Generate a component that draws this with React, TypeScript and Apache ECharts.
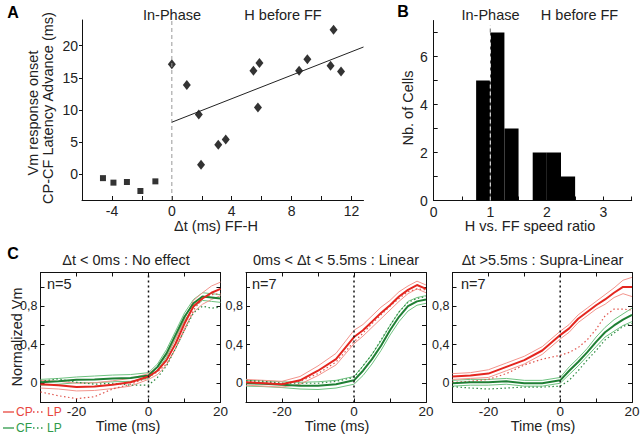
import React, { useEffect, useRef } from "react";
import * as echarts from "echarts";

// ---------- Panel A data ----------
const beforeX = [-4.6, -3.9, -3.0, -2.1, -1.1];
const beforeY = [-0.6, -1.3, -1.2, -2.6, -1.1];
const afterX = [0, 1.0, 1.8, 1.95, 3.1, 3.6, 5.45, 5.85, 5.75, 8.5, 9.05, 10.8, 10.6, 11.3];
const afterY = [17.1, 13.9, 9.3, 1.5, 4.6, 5.4, 16.1, 17.3, 10.4, 16.1, 17.9, 22.5, 16.9, 16.0];
const fitLine = [[0, 8.1], [12.8, 19.8]];

// ---------- Panel B data ----------
const binStart = [0.75, 1.0, 1.25, 1.5, 1.75, 2.0, 2.25];
const binEnd = [1.0, 1.25, 1.5, 1.75, 2.0, 2.25, 2.5];
const binCount = [5, 7, 3, 0, 2, 2, 1];

// ---------- Panel C data ----------
const T = [-30, -25, -20, -15, -10, -5, 0, 2.5, 5, 7.5, 10, 12.5, 15, 17.5, 20];

const cpMean1 = [-0.01, -0.02, -0.04, -0.035, -0.015, 0.01, 0.07, 0.13, 0.24, 0.41, 0.62, 0.8, 0.88, 0.94, 0.98];
const cpSem1 = [0.04, 0.04, 0.04, 0.04, 0.04, 0.04, 0.03, 0.04, 0.05, 0.05, 0.05, 0.06, 0.06, 0.07, 0.07];
const cfMean1 = [0.01, 0.02, 0.035, 0.04, 0.05, 0.055, 0.08, 0.17, 0.31, 0.5, 0.69, 0.83, 0.9, 0.89, 0.88];
const cfSem1 = [0.03, 0.03, 0.03, 0.035, 0.035, 0.035, 0.03, 0.03, 0.04, 0.04, 0.04, 0.04, 0.04, 0.04, 0.04];
const cpLP1 = [-0.09, -0.13, -0.16, -0.14, -0.06, -0.01, 0.06, 0.12, 0.2, 0.36, 0.55, 0.76, 0.88, 0.92, 0.93];
const cfLP1 = [0.02, 0.045, 0.01, -0.01, 0, -0.02, -0.02, 0.06, 0.18, 0.36, 0.55, 0.73, 0.8, 0.78, 0.79];

const cpMean2 = [0.01, 0.0, -0.01, 0.03, 0.13, 0.25, 0.48, 0.55, 0.64, 0.73, 0.81, 0.9, 0.97, 1.02, 0.98];
const cpSem2 = [0.03, 0.03, 0.03, 0.04, 0.05, 0.06, 0.07, 0.06, 0.06, 0.06, 0.05, 0.05, 0.04, 0.04, 0.04];
const cfMean2 = [0.0, -0.005, -0.015, -0.025, -0.025, -0.01, 0.03, 0.13, 0.25, 0.39, 0.55, 0.69, 0.8, 0.85, 0.87];
const cfSem2 = [0.03, 0.03, 0.03, 0.035, 0.04, 0.04, 0.04, 0.05, 0.05, 0.05, 0.05, 0.05, 0.05, 0.04, 0.04];
const cpLP2 = [0.02, 0.01, 0.0, 0.02, 0.1, 0.22, 0.43, 0.52, 0.62, 0.71, 0.8, 0.88, 0.95, 0.98, 0.97];
const cfLP2 = [0.03, 0.02, 0.0, 0.0, 0.0, 0.02, 0.06, 0.18, 0.3, 0.45, 0.6, 0.74, 0.84, 0.88, 0.9];

const cpMean3 = [0.07, 0.08, 0.1, 0.17, 0.24, 0.34, 0.5, 0.57, 0.67, 0.74, 0.81, 0.87, 0.94, 1.0, 1.0];
const cpSem3 = [0.03, 0.03, 0.04, 0.04, 0.04, 0.04, 0.04, 0.04, 0.04, 0.04, 0.04, 0.05, 0.05, 0.07, 0.1];
const cfMean3 = [0.0, 0.01, 0.01, 0.02, 0.0, 0.0, 0.03, 0.13, 0.22, 0.32, 0.43, 0.53, 0.6, 0.66, 0.71];
const cfSem3 = [0.03, 0.03, 0.03, 0.03, 0.03, 0.03, 0.03, 0.04, 0.04, 0.04, 0.05, 0.05, 0.06, 0.06, 0.07];
const cpLP3 = [0.01, 0.02, 0.04, 0.1, 0.19, 0.25, 0.29, 0.32, 0.37, 0.45, 0.56, 0.7, 0.77, 0.77, 0.76];
const cfLP3 = [-0.035, -0.05, -0.06, -0.05, -0.04, -0.04, -0.03, 0.03, 0.13, 0.24, 0.34, 0.45, 0.52, 0.59, 0.62];

const panelsC = [
  { title: "Δt < 0ms : No effect", n: "n=5", cpMean: cpMean1, cpSem: cpSem1, cfMean: cfMean1, cfSem: cfSem1, cpLP: cpLP1, cfLP: cfLP1 },
  { title: "0ms < Δt < 5.5ms : Linear", n: "n=7", cpMean: cpMean2, cpSem: cpSem2, cfMean: cfMean2, cfSem: cfSem2, cpLP: cpLP2, cfLP: cfLP2 },
  { title: "Δt >5.5ms : Supra-Linear", n: "n=7", cpMean: cpMean3, cpSem: cpSem3, cfMean: cfMean3, cfSem: cfSem3, cpLP: cpLP3, cfLP: cfLP3 },
];

const xTicksA = [-6, -4, -2, 0, 2, 4, 6, 8, 10, 12];
const xLabelsA = [-4, 0, 4, 8, 12];
const yTicksA = [0, 5, 10, 15, 20];
const xTicksB = [0, 0.5, 1, 1.5, 2, 2.5, 3, 3.5];
const xLabelsB = [0, 1, 2, 3];
const yTicksB = [0, 1, 2, 3, 4, 5, 6, 7];
const yLabelsB = [0, 2, 4, 6];
const xTicksC = [-20, -10, 0, 10];
const xLabelsC = [-20, 0, 20];
const yTicksC = [0, 0.2, 0.4, 0.6, 0.8, 1.0];
const yLabelsC = [0, 0.4, 0.8];

const FONT = "Liberation Sans";
const RED = "#e3261f";
const RED_L = "#f3958d";
const RED_D = "#e0554d";
const GREEN = "#1f7f34";
const GREEN_L = "#6fc381";
const GREEN_D = "#2d8a40";
const LEG_RED = "#e8463e";
const LEG_GREEN = "#2e9a4a";

const cGrids = [
  { left: 40.5, width: 180 },
  { left: 246, width: 180 },
  { left: 452.5, width: 179.5 },
];
const C_TOP = 272.5;
const C_H = 130;

function axisBase(extra: any) {
  return {
    axisLine: { show: true, onZero: false, lineStyle: { color: "#111", width: 1 } },
    splitLine: { show: false },
    ...extra,
  };
}

export default function App() {
  const ref = useRef<HTMLDivElement>(null);
  useEffect(() => {
    if (!ref.current) return;
    const chart = echarts.init(ref.current, null, { renderer: "svg" });

    const grids: any[] = [
      { left: 82, top: 20, width: 281.5, height: 180, outerBoundsMode: "none" },
      { left: 433.7, top: 20.5, width: 198, height: 180, outerBoundsMode: "none" },
      ...cGrids.map((g) => ({ left: g.left, top: C_TOP, width: g.width, height: C_H, outerBoundsMode: "none" })),
    ];

    const lblA = { fontFamily: FONT, fontSize: 14, color: "#222" };
    const lblCx = { fontFamily: FONT, fontSize: 13.5, color: "#222" };
    const lblCy = { fontFamily: FONT, fontSize: 12.5, color: "#222" };

    const xAxes: any[] = [
      axisBase({
        type: "value", gridIndex: 0, min: -6, max: 12.8,
        axisTick: { show: true, inside: true, length: 4, customValues: xTicksA, lineStyle: { color: "#111" } },
        axisLabel: { ...lblA, margin: 4, customValues: xLabelsA },
      }),
      axisBase({
        type: "value", gridIndex: 1, min: 0, max: 3.5,
        axisTick: { show: true, inside: true, length: 4, customValues: xTicksB, lineStyle: { color: "#111" } },
        axisLabel: { ...lblA, margin: 4, customValues: xLabelsB },
      }),
      ...[0, 1, 2].map((i) =>
        axisBase({
          type: "value", gridIndex: 2 + i, min: -30, max: 20, position: "bottom",
          axisTick: { show: true, inside: true, length: 4, customValues: xTicksC, lineStyle: { color: "#111" } },
          axisLabel: { ...lblCx, margin: 2, customValues: xLabelsC },
        })
      ),
      ...[0, 1, 2].map((i) =>
        axisBase({
          type: "value", gridIndex: 2 + i, min: -30, max: 20, position: "top",
          axisTick: { show: true, inside: true, length: 4, customValues: xTicksC, lineStyle: { color: "#111" } },
          axisLabel: { show: false },
        })
      ),
    ];

    const fmtC = (v: number) => (v === 0 ? "0" : String(v).replace(".", ","));
    const yAxes: any[] = [
      axisBase({
        type: "value", gridIndex: 0, min: -4, max: 24,
        axisTick: { show: true, inside: false, length: 3, customValues: yTicksA, lineStyle: { color: "#111" } },
        axisLabel: { ...lblA, margin: 4, customValues: yTicksA },
      }),
      axisBase({
        type: "value", gridIndex: 1, min: 0, max: 7.5,
        axisTick: { show: true, inside: true, length: 4, customValues: yTicksB, lineStyle: { color: "#111" } },
        axisLabel: { ...lblA, margin: 6, customValues: yLabelsB },
      }),
      ...[0, 1, 2].map((i) =>
        axisBase({
          type: "value", gridIndex: 2 + i, min: -0.2, max: 1.15, position: "left",
          axisTick: { show: true, inside: true, length: 4, customValues: yTicksC, lineStyle: { color: "#111" } },
          axisLabel: { ...lblCy, margin: 3, customValues: yLabelsC, formatter: fmtC },
        })
      ),
      ...[0, 1, 2].map((i) =>
        axisBase({
          type: "value", gridIndex: 2 + i, min: -0.2, max: 1.15, position: "right",
          axisTick: { show: true, inside: true, length: 4, customValues: yTicksC, lineStyle: { color: "#111" } },
          axisLabel: { show: false },
        })
      ),
    ];

    const series: any[] = [
      {
        type: "line", xAxisIndex: 0, yAxisIndex: 0, data: [[0, -4], [0, 24]], symbol: "none",
        lineStyle: { color: "#999", width: 1, type: [4, 3] }, silent: true,
      },
      {
        type: "line", xAxisIndex: 0, yAxisIndex: 0, data: fitLine, symbol: "none",
        lineStyle: { color: "#222", width: 1 }, silent: true,
      },
      {
        type: "scatter", xAxisIndex: 0, yAxisIndex: 0, symbol: "rect", symbolSize: 6,
        itemStyle: { color: "#000" }, data: beforeX.map((x, i) => [x, beforeY[i]]),
      },
      {
        type: "scatter", xAxisIndex: 0, yAxisIndex: 0, symbol: "diamond", symbolSize: [8, 10],
        itemStyle: { color: "#000" }, data: afterX.map((x, i) => [x, afterY[i]]),
      },
      {
        type: "custom", xAxisIndex: 1, yAxisIndex: 1,
        data: binStart.map((s, i) => [s, binEnd[i], binCount[i]]),
        encode: { x: [0, 1], y: 2 },
        renderItem: (params: any, api: any) => {
          const p0 = api.coord([api.value(0), api.value(2)]);
          const p1 = api.coord([api.value(1), 0]);
          return {
            type: "rect",
            shape: { x: p0[0], y: p0[1], width: p1[0] - p0[0], height: p1[1] - p0[1] },
            style: { fill: "#000" },
          };
        },
      },
      {
        type: "line", xAxisIndex: 1, yAxisIndex: 1, data: [[1, 0], [1, 7]], symbol: "none",
        lineStyle: { color: "#fff", width: 1, type: [4, 3] }, silent: true, z: 5,
      },
      {
        type: "line", xAxisIndex: 1, yAxisIndex: 1, data: [[1, 7], [1, 7.3]], symbol: "none",
        lineStyle: { color: "#666", width: 1, type: [4, 3] }, silent: true, z: 5,
      },
    ];

    panelsC.forEach((p, i) => {
      const ax = { xAxisIndex: 2 + i, yAxisIndex: 2 + i, symbol: "none", silent: true };
      const mk = (vals: number[]) => T.map((t, k) => [t, vals[k]]);
      const up = (m: number[], s: number[]) => T.map((t, k) => [t, m[k] + s[k]]);
      const dn = (m: number[], s: number[]) => T.map((t, k) => [t, m[k] - s[k]]);
      series.push(
        { type: "line", ...ax, data: up(p.cfMean, p.cfSem), lineStyle: { color: GREEN_L, width: 1 } },
        { type: "line", ...ax, data: dn(p.cfMean, p.cfSem), lineStyle: { color: GREEN_L, width: 1 } },
        { type: "line", ...ax, data: up(p.cpMean, p.cpSem), lineStyle: { color: RED_L, width: 1 } },
        { type: "line", ...ax, data: dn(p.cpMean, p.cpSem), lineStyle: { color: RED_L, width: 1 } },
        { type: "line", ...ax, data: mk(p.cpLP), lineStyle: { color: RED_D, width: 1.2, type: [1.5, 2.5] } },
        { type: "line", ...ax, data: mk(p.cfLP), lineStyle: { color: GREEN_D, width: 1.2, type: [1.5, 2.5] } },
        { type: "line", ...ax, data: mk(p.cfMean), lineStyle: { color: GREEN, width: 2 } },
        { type: "line", ...ax, data: mk(p.cpMean), lineStyle: { color: RED, width: 2 } },
        { type: "line", ...ax, data: [[0, -0.2], [0, 1.15]], lineStyle: { color: "#111", width: 1.5, type: [2, 3] }, z: 6 }
      );
    });

    const txt = (text: string, x: number, y: number, opts: any = {}) => ({
      type: "text", x, y,
      style: {
        text, fontFamily: FONT, fontSize: 14.5, fill: "#222",
        textAlign: "center", textVerticalAlign: "middle", ...opts,
      },
    });
    const vtxt = (text: string, x: number, y: number) => ({
      type: "text", x, y, rotation: Math.PI / 2,
      style: { text, fontFamily: FONT, fontSize: 14.5, fill: "#222", textAlign: "center", textVerticalAlign: "middle" },
    });

    const graphics: any[] = [
      txt("A", 13, 12, { fontSize: 16, fontWeight: "bold", fill: "#000" }),
      txt("B", 403, 11, { fontSize: 16, fontWeight: "bold", fill: "#000" }),
      txt("C", 13, 253, { fontSize: 16, fontWeight: "bold", fill: "#000" }),
      txt("In-Phase", 172, 15),
      txt("H before FF", 283, 15),
      txt("In-Phase", 490.5, 15),
      txt("H before FF", 579.5, 15),
      vtxt("Vm response onset", 33, 113),
      vtxt("CP-CF Latency Advance (ms)", 47.5, 108),
      txt("Δt (ms) FF-H", 216, 226),
      vtxt("Nb. of Cells", 408, 108),
      txt("H vs. FF speed ratio", 530, 226),
      vtxt("Normalized Vm", 17, 337),
      // legend
      { type: "line", shape: { x1: 3, y1: 412, x2: 14, y2: 412 }, style: { stroke: LEG_RED, lineWidth: 1.3 } },
      txt("CP", 16, 412, { fontSize: 12, fill: LEG_RED, textAlign: "left" }),
      { type: "line", shape: { x1: 33, y1: 412, x2: 45, y2: 412 }, style: { stroke: LEG_RED, lineWidth: 1.3, lineDash: [1.5, 2.5] } },
      txt("LP", 47, 412, { fontSize: 12, fill: LEG_RED, textAlign: "left" }),
      { type: "line", shape: { x1: 3, y1: 428, x2: 14, y2: 428 }, style: { stroke: LEG_GREEN, lineWidth: 1.3 } },
      txt("CF", 16, 428, { fontSize: 12, fill: LEG_GREEN, textAlign: "left" }),
      { type: "line", shape: { x1: 33, y1: 428, x2: 45, y2: 428 }, style: { stroke: LEG_GREEN, lineWidth: 1.3, lineDash: [1.5, 2.5] } },
      txt("LP", 47, 428, { fontSize: 12, fill: LEG_GREEN, textAlign: "left" }),
    ];

    const titleX = [126, 336, 542.5];
    const nX = [47, 252, 461];
    const timeX = [128, 337, 543];
    panelsC.forEach((p, i) => {
      graphics.push(txt(p.title, titleX[i], 260, { fontSize: 14.5 }));
      graphics.push(txt(p.n, nX[i], 284, { fontSize: 14.5, textAlign: "left" }));
      graphics.push(txt("Time (ms)", timeX[i], 426, { fontSize: 14.5 }));
    });

    chart.setOption({
      animation: false,
      backgroundColor: "#fff",
      grid: grids,
      xAxis: xAxes,
      yAxis: yAxes,
      series,
      graphic: graphics,
    });
    return () => chart.dispose();
  }, []);
  return <div ref={ref} style={{ position: "fixed", left: 0, top: 0, width: 640, height: 435 }} />;
}
